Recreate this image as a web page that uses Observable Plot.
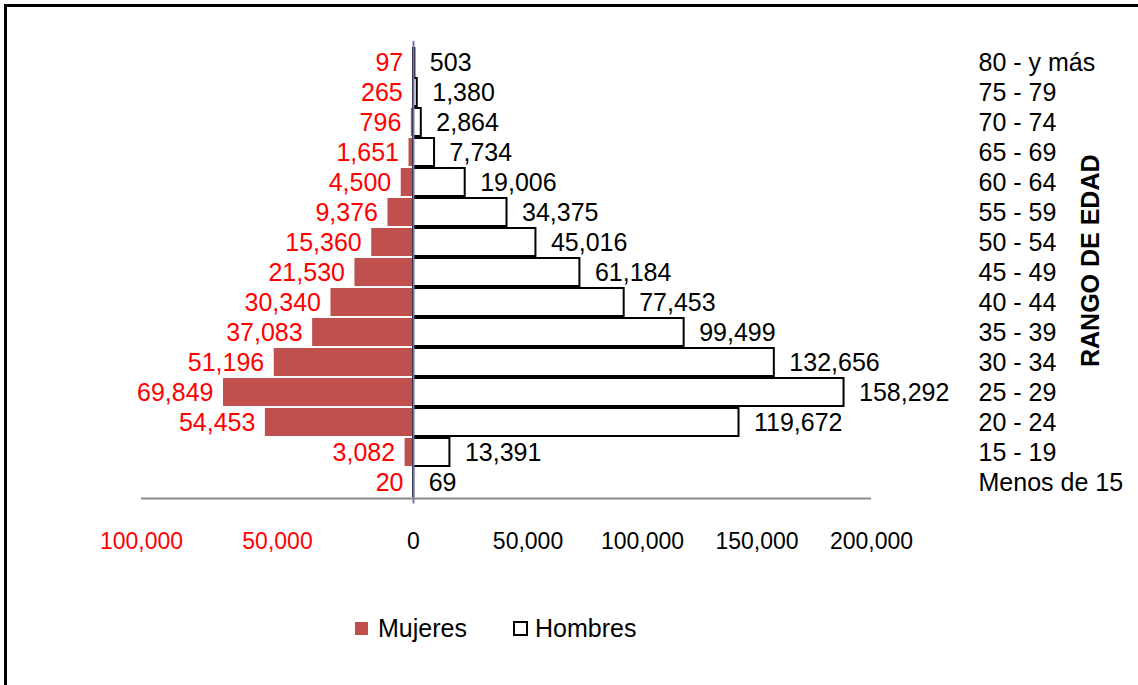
<!DOCTYPE html>
<html>
<head>
<meta charset="utf-8">
<script src="https://cdn.jsdelivr.net/npm/d3@7"></script>
<script src="https://cdn.jsdelivr.net/npm/@observablehq/plot@0.6"></script>
<style>
  html, body { margin: 0; padding: 0; background: #fff; }
  #wrap { position: relative; width: 1138px; height: 685px; overflow: hidden; background: #fff;
          font-family: "Liberation Sans", Arial, sans-serif; }
  #border { position: absolute; left: 4px; top: 4px; width: 1200px; height: 800px;
            border-left: 3px solid #000; border-top: 3px solid #000; pointer-events: none; }
  #chart { position: absolute; left: 0; top: 0; }
  .leg-sw { position: absolute; box-sizing: border-box; }
  .leg-tx { position: absolute; font-size: 25px; line-height: 28px; color: #000; white-space: nowrap; }
</style>
</head>
<body>
<div id="wrap">
  <div id="chart"></div>
  <div id="legend"></div>
  <div id="border"></div>
</div>
<script>
// ---- data ----
const ageGroups = ["80 - y más", "75 - 79", "70 - 74", "65 - 69", "60 - 64", "55 - 59", "50 - 54",
                   "45 - 49", "40 - 44", "35 - 39", "30 - 34", "25 - 29", "20 - 24", "15 - 19", "Menos de 15"];
const mujeres = [97, 265, 796, 1651, 4500, 9376, 15360, 21530, 30340, 37083, 51196, 69849, 54453, 3082, 20];
const hombres = [503, 1380, 2864, 7734, 19006, 34375, 45016, 61184, 77453, 99499, 132656, 158292, 119672, 13391, 69];
const seriesNames = ["Mujeres", "Hombres"];
const leftTicks = [-100000, -50000];
const rightTicks = [0, 50000, 100000, 150000, 200000];
const yTitle = "RANGO DE EDAD";

// ---- layout / style ----
const W = 1138, H = 560;
const mTop = 41, frameBottom = 503.5, mLeft = 141, mRight = 181;
const mBottom = H - frameBottom;
const yPad = 0.08;
const n = ageGroups.length;
const step = (frameBottom - mTop) / (n - yPad + 2 * yPad);
const lastCenter = mTop + yPad * step + (n - 1) * step + (1 - yPad) * step / 2;
const baselineY = 503;
const tickLabelY = 541;
const rightAxisCompress = 0.842; // right-hand tick labels in the original are squeezed
const femaleFill = "#c0504d";
const fmt = d3.format(",");
const FS = 25;

const rows = ageGroups.map((age, i) => ({age, mujeres: mujeres[i], hombres: hombres[i]}));

const plot = Plot.plot({
  width: W,
  height: H,
  marginTop: mTop,
  marginBottom: mBottom,
  marginLeft: mLeft,
  marginRight: mRight,
  style: {fontFamily: "'Liberation Sans', Arial, sans-serif", fontSize: FS + "px", background: "transparent", overflow: "visible", color: "#000"},
  x: {domain: [-100000, 200000], axis: null},
  y: {domain: ageGroups, padding: yPad, axis: "right", tickSize: 0, tickPadding: 21, label: null},
  marks: [
    Plot.barX(rows, {y: "age", x1: 0, x2: d => -d.mujeres, fill: femaleFill}),
    Plot.barX(rows, {y: "age", x1: 0, x2: d => d.hombres, fill: "white", stroke: "#000", strokeWidth: 2}),
    Plot.ruleX([0], {stroke: "#7474a8", strokeWidth: 2}),
    Plot.ruleY([ageGroups[n - 1]], {x1: -100000, x2: 200000 * rightAxisCompress, dy: baselineY - lastCenter, stroke: "#8a8a8a", strokeWidth: 2}),
    Plot.text(rows, {y: "age", x: d => -d.mujeres, text: d => fmt(d.mujeres), textAnchor: "end", dx: -10, fill: "#ff0000", fontSize: FS}),
    Plot.text(rows, {y: "age", x: d => d.hombres, text: d => fmt(d.hombres), textAnchor: "start", dx: 15, fill: "#000", fontSize: FS}),
    Plot.text(leftTicks, {x: d => d, text: d => fmt(-d), frameAnchor: "bottom", lineAnchor: "middle", dy: tickLabelY - frameBottom, fill: "#ff0000", fontSize: 23}),
    Plot.text(rightTicks, {x: d => d * rightAxisCompress, text: d => fmt(d), frameAnchor: "bottom", lineAnchor: "middle", dy: tickLabelY - frameBottom, fill: "#000", fontSize: 23}),
    Plot.text([yTitle], {text: d => d, frameAnchor: "right", textAnchor: "middle", lineAnchor: "middle", dx: 133, dy: -12, rotate: -90, fontWeight: "bold", fontSize: FS, fill: "#000"})
  ]
});
document.getElementById("chart").appendChild(plot);

// ---- legend ----
const legend = document.getElementById("legend");
const legendItems = [
  {name: seriesNames[0], sw: {left: 355, top: 622, w: 13, h: 13, bg: femaleFill, border: "none"}, tx: 378},
  {name: seriesNames[1], sw: {left: 513, top: 621, w: 15, h: 15, bg: "#fff", border: "2px solid #000"}, tx: 535}
];
for (const it of legendItems) {
  const s = document.createElement("div");
  s.className = "leg-sw";
  Object.assign(s.style, {left: it.sw.left + "px", top: it.sw.top + "px", width: it.sw.w + "px", height: it.sw.h + "px", background: it.sw.bg, border: it.sw.border});
  legend.appendChild(s);
  const t = document.createElement("div");
  t.className = "leg-tx";
  t.textContent = it.name;
  Object.assign(t.style, {left: it.tx + "px", top: "614px"});
  legend.appendChild(t);
}
</script>
</body>
</html>
